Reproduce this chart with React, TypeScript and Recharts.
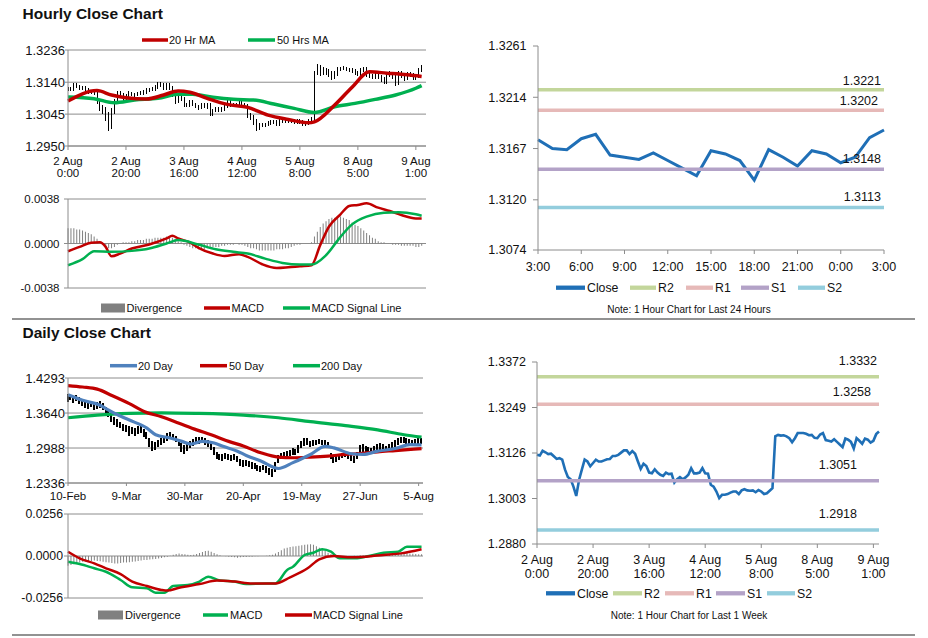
import {
  ComposedChart,
  Line,
  Bar,
  XAxis,
  YAxis,
  CartesianGrid,
  ReferenceLine,
} from "recharts";

// ──────────────────────────────────────────────
// Look
// ──────────────────────────────────────────────

const FONT = '"Liberation Sans", Arial, Helvetica, sans-serif';
const AXIS = "#8c8c8c";
const INK = "#111";
const RED = "#c00000";
const GREEN = "#00b050";
const BLUE = "#4f81bd";
const CLOSE = "#1f6fb6";
const DIV_GRAY = "#808080";
const LEVEL_COLORS = ["#c3d69b", "#e6b9b8", "#b3a2c7", "#93cddd"];

// ──────────────────────────────────────────────
// Hourly data (2 Aug 0:00 → 9 Aug 3:00)
// ──────────────────────────────────────────────

const WEEK_TICKS = [0, 20, 40, 60, 80, 100, 120];
const WEEK_TICK_DAYS = ["2 Aug", "2 Aug", "3 Aug", "4 Aug", "5 Aug", "8 Aug", "9 Aug"];
const WEEK_TICK_HOURS = ["0:00", "20:00", "16:00", "12:00", "8:00", "5:00", "1:00"];

const WEEK_CLOSE_HEAD = [
  1.3121, 1.3119, 1.3132, 1.3128, 1.3123, 1.3124, 1.3117, 1.311, 1.3112, 1.3108,
  1.3081, 1.3061, 1.3055, 1.3035, 1.301, 1.3053, 1.3081, 1.3108, 1.3103, 1.309,
  1.3099, 1.3108, 1.3103, 1.3103, 1.3106, 1.3109, 1.311, 1.3118, 1.3118, 1.3121,
  1.3127, 1.3133, 1.3133, 1.3123, 1.3131, 1.3124, 1.3103, 1.3083, 1.3097, 1.3091,
  1.3073, 1.3071, 1.3082, 1.3073, 1.3067, 1.3064, 1.3073, 1.3069, 1.307, 1.3046,
  1.3055, 1.3061, 1.3055, 1.306, 1.3067, 1.3085, 1.3071, 1.3071, 1.3073, 1.3085,
  1.3071, 1.307, 1.304, 1.3035, 1.3022, 1.3004, 1.3013, 1.3013, 1.3015, 1.3019,
  1.3022, 1.3022, 1.3015, 1.3025, 1.3028, 1.3025, 1.3024, 1.3025, 1.302, 1.3026,
  1.3022, 1.3015, 1.3017, 1.3024, 1.3031, 1.3171, 1.3175, 1.3173, 1.3174, 1.3171,
  1.3166, 1.3155, 1.3166, 1.318, 1.318, 1.318, 1.3178, 1.3174,
];

// last 24 hours: 8 Aug 3:00 → 9 Aug 3:00
const HOUR_TICKS = [0, 3, 6, 9, 12, 15, 18, 21, 24];
const HOUR_TICK_LABELS = ["3:00", "6:00", "9:00", "12:00", "15:00", "18:00", "21:00", "0:00", "3:00"];
const CLOSE_24 = [
  1.3175, 1.3167, 1.3166, 1.3176, 1.318, 1.3161, 1.3159, 1.3157, 1.3163, 1.3156,
  1.3149, 1.3142, 1.3165, 1.3162, 1.3156, 1.3138, 1.3166, 1.3159, 1.3151, 1.3165,
  1.3162, 1.3154, 1.3159, 1.3177, 1.3184,
];

const WEEK_CLOSE = [...WEEK_CLOSE_HEAD, ...CLOSE_24];

const HOURLY_LOW = [
  1.3115, 1.3114, 1.3114, 1.3122, 1.3118, 1.3117, 1.3112, 1.3105, 1.3105, 1.3102,
  1.3075, 1.3053, 1.3045, 1.3023, 1.2995, 1.3, 1.3045, 1.3075, 1.3098, 1.3084,
  1.3085, 1.3094, 1.3099, 1.3097, 1.3098, 1.3101, 1.3103, 1.3105, 1.3112, 1.3113,
  1.3115, 1.312, 1.3125, 1.3118, 1.3117, 1.3118, 1.3097, 1.3076, 1.3077, 1.3085,
  1.3067, 1.3065, 1.3066, 1.3068, 1.3062, 1.3058, 1.3059, 1.3064, 1.3061, 1.3038,
  1.304, 1.305, 1.305, 1.305, 1.3055, 1.3062, 1.3066, 1.3065, 1.3066, 1.3068,
  1.3065, 1.3064, 1.3034, 1.3027, 1.3014, 1.2996, 1.2998, 1.3007, 1.3008, 1.301,
  1.3014, 1.3016, 1.301, 1.301, 1.302, 1.302, 1.3018, 1.3019, 1.3015, 1.3015,
  1.3017, 1.301, 1.301, 1.3012, 1.3018, 1.302, 1.3163, 1.316, 1.3162, 1.3163,
  1.3157, 1.3148, 1.315, 1.316, 1.3174, 1.3175, 1.3173, 1.3169, 1.3168, 1.3161,
  1.316, 1.316, 1.317, 1.3155, 1.3152, 1.315, 1.315, 1.3149, 1.3141, 1.3134,
  1.3136, 1.3155, 1.3149, 1.313, 1.3132, 1.3152, 1.3145, 1.3146, 1.3156, 1.3148,
  1.3148, 1.3153, 1.317,
];
const HOURLY_HIGH = [
  1.3127, 1.3126, 1.3137, 1.3138, 1.3133, 1.313, 1.3129, 1.3122, 1.3117, 1.3118,
  1.3114, 1.3089, 1.3071, 1.3067, 1.305, 1.3063, 1.3089, 1.3114, 1.3113, 1.3109,
  1.3104, 1.3113, 1.3112, 1.3109, 1.3111, 1.3114, 1.3116, 1.3123, 1.3124, 1.3126,
  1.3133, 1.314, 1.3141, 1.3138, 1.3137, 1.3137, 1.313, 1.311, 1.3103, 1.3103,
  1.3097, 1.3079, 1.3087, 1.3087, 1.3078, 1.3073, 1.3078, 1.3078, 1.3078, 1.3078,
  1.3061, 1.3066, 1.3066, 1.3065, 1.3072, 1.309, 1.309, 1.3077, 1.3078, 1.309,
  1.3091, 1.3077, 1.3076, 1.3048, 1.3043, 1.303, 1.3019, 1.3019, 1.302, 1.3024,
  1.3027, 1.3028, 1.3027, 1.303, 1.3033, 1.3033, 1.3031, 1.303, 1.303, 1.3031,
  1.3031, 1.3027, 1.3022, 1.3029, 1.3037, 1.3172, 1.3195, 1.3192, 1.3186, 1.3182,
  1.318, 1.3172, 1.3172, 1.3186, 1.3186, 1.3187, 1.3185, 1.3183, 1.3181, 1.318,
  1.3172, 1.3181, 1.3185, 1.3185, 1.3167, 1.3165, 1.3169, 1.3169, 1.3163, 1.3156,
  1.3171, 1.3172, 1.3169, 1.3162, 1.3172, 1.3172, 1.3165, 1.3171, 1.317, 1.3168,
  1.3165, 1.3183, 1.3192,
];

// [hour index, value]
const MA20_HOURLY = [
  [0, 1.3084], [10, 1.3115], [15, 1.3102], [20, 1.3094], [27, 1.309], [33, 1.3102],
  [38, 1.3114], [42, 1.311], [48, 1.3092], [55, 1.3074], [62, 1.3065], [69, 1.3042],
  [76, 1.3029], [83, 1.3019], [85, 1.3022], [92, 1.3072], [98, 1.3125], [104, 1.3171],
  [110, 1.3167], [117, 1.3162], [122, 1.3157],
];
const MA50_HOURLY = [
  [0, 1.3096], [9, 1.3091], [16, 1.3079], [23, 1.3087], [31, 1.3092], [38, 1.3104],
  [43, 1.3104], [50, 1.3095], [57, 1.3089], [64, 1.3087], [71, 1.3075], [78, 1.3062],
  [85, 1.305], [92, 1.3067], [99, 1.3077], [106, 1.3089], [113, 1.3102], [120, 1.3122],
  [122, 1.313],
];

const MACD_HOURLY = [
  [0, -0.00066], [4, -0.00029], [8, 0.00006], [11, 0.0001], [13, -0.00029], [15, -0.00109],
  [18, -0.00086], [22, -0.00043], [28, -0.00009], [34, 0.00043], [36, 0.00066], [38, 0.00043],
  [42, 0.0001], [45, -0.00037], [50, -0.00086], [54, -0.00106], [59, -0.00091], [62, -0.00114],
  [67, -0.00177], [72, -0.00209], [76, -0.00203], [80, -0.00194], [84, -0.00186], [87, -0.00014],
  [90, 0.00143], [94, 0.00249], [97, 0.0032], [100, 0.00329], [103, 0.00343], [107, 0.00306],
  [111, 0.00277], [115, 0.00243], [120, 0.00214], [122, 0.00214],
];
const SIGNAL_HOURLY = [
  [0, -0.00186], [5, -0.00134], [9, -0.00066], [15, -0.00071], [22, -0.00063], [28, -0.00043],
  [34, 0], [38, 0.00029], [45, -0.00009], [51, -0.00049], [57, -0.00071], [62, -0.00086],
  [68, -0.00129], [74, -0.00166], [80, -0.0018], [84, -0.0018], [89, -0.001], [94, 0.00057],
  [98, 0.00163], [103, 0.00229], [109, 0.00263], [114, 0.00266], [120, 0.00249], [122, 0.00237],
];
const DIV_HOURLY = [
  0.0013, 0.0013, 0.0013, 0.0012, 0.0012, 0.0011, 0.001, 0.0009, 0.0008, 0.0006,
  0.0004, 0.0002, 0.0, -0.0002, -0.0004, -0.0004, -0.0003, -0.0001, 0.0, 0.0001,
  0.0001, 0.0001, 0.0002, 0.0002, 0.0003, 0.0003, 0.0003, 0.0004, 0.0004, 0.0004,
  0.0005, 0.0005, 0.0005, 0.0005, 0.0006, 0.0006, 0.0005, 0.0004, 0.0002, 0.0001,
  -0.0001, -0.0002, -0.0003, -0.0004, -0.0004, -0.0005, -0.0005, -0.0005, -0.0004, -0.0004,
  -0.0003, -0.0003, -0.0003, -0.0002, -0.0002, -0.0001, -0.0001, -0.0001, 0.0, -0.0001,
  -0.0001, -0.0002, -0.0003, -0.0004, -0.0004, -0.0005, -0.0006, -0.0006, -0.0006, -0.0006,
  -0.0006, -0.0006, -0.0005, -0.0005, -0.0005, -0.0004, -0.0004, -0.0003, -0.0002, -0.0001,
  -0.0001, 0.0, 0.0, 0.0, 0.0001, 0.0006, 0.001, 0.0014, 0.0017, 0.0019,
  0.0021, 0.0022, 0.0022, 0.0023, 0.0023, 0.0022, 0.0021, 0.002, 0.0018, 0.0016,
  0.0015, 0.0013, 0.0011, 0.0009, 0.0007, 0.0005, 0.0004, 0.0002, 0.0001, 0.0001,
  0.0, 0.0, -0.0001, -0.0001, -0.0001, -0.0002, -0.0002, -0.0002, -0.0002, -0.0002,
  -0.0003, -0.0003, -0.0002,
];

const LEVEL_NAMES = ["R2", "R1", "S1", "S2"];
const LEVELS_24 = [1.3221, 1.3202, 1.3148, 1.3113];
const LEVELS_WEEK = [1.3332, 1.3258, 1.3051, 1.2918];

// ──────────────────────────────────────────────
// Daily data (10 Feb → 5 Aug)
// ──────────────────────────────────────────────

const DAY_TICKS = [0, 20, 40, 60, 80, 100, 120];
const DAY_TICK_LABELS = ["10-Feb", "9-Mar", "30-Mar", "20-Apr", "19-May", "27-Jun", "5-Aug"];

const DAILY_LOW = [
  1.385, 1.388, 1.383, 1.386, 1.38, 1.378, 1.374, 1.372, 1.375, 1.37,
  1.372, 1.374, 1.37, 1.362, 1.356, 1.348, 1.342, 1.338, 1.336, 1.33,
  1.328, 1.322, 1.325, 1.321, 1.324, 1.326, 1.32, 1.315, 1.3, 1.294,
  1.296, 1.3, 1.305, 1.308, 1.312, 1.315, 1.314, 1.31, 1.302, 1.292,
  1.288, 1.294, 1.299, 1.303, 1.307, 1.306, 1.308, 1.305, 1.3, 1.296,
  1.285, 1.278, 1.276, 1.275, 1.278, 1.277, 1.275, 1.276, 1.272, 1.266,
  1.264, 1.265, 1.264, 1.26, 1.259, 1.256, 1.255, 1.257, 1.253, 1.248,
  1.245, 1.254, 1.27, 1.278, 1.281, 1.28, 1.283, 1.286, 1.285, 1.29,
  1.298, 1.303, 1.305, 1.3, 1.302, 1.304, 1.306, 1.305, 1.304, 1.299,
  1.278, 1.27, 1.272, 1.276, 1.28, 1.282, 1.279, 1.275, 1.27, 1.279,
  1.29, 1.292, 1.29, 1.288, 1.288, 1.291, 1.294, 1.296, 1.295, 1.292,
  1.294, 1.298, 1.301, 1.304, 1.308, 1.309, 1.306, 1.305, 1.303, 1.302,
  1.305, 1.307,
];
const DAILY_HIGH = [
  1.399, 1.3975, 1.396, 1.3985, 1.394, 1.39, 1.388, 1.383, 1.386, 1.383,
  1.385, 1.386, 1.383, 1.376, 1.368, 1.361, 1.356, 1.352, 1.348, 1.344,
  1.342, 1.34, 1.338, 1.336, 1.339, 1.342, 1.334, 1.328, 1.318, 1.312,
  1.31, 1.313, 1.317, 1.32, 1.326, 1.329, 1.325, 1.322, 1.315, 1.308,
  1.304, 1.306, 1.311, 1.315, 1.319, 1.32, 1.319, 1.317, 1.314, 1.308,
  1.3, 1.292, 1.288, 1.288, 1.289, 1.288, 1.286, 1.287, 1.284, 1.279,
  1.276, 1.276, 1.274, 1.272, 1.27, 1.268, 1.266, 1.267, 1.265, 1.262,
  1.26, 1.272, 1.285, 1.29, 1.292, 1.294, 1.296, 1.298, 1.297, 1.305,
  1.312, 1.317, 1.318, 1.312, 1.313, 1.314, 1.315, 1.314, 1.313, 1.31,
  1.29, 1.283, 1.285, 1.288, 1.29, 1.292, 1.29, 1.287, 1.283, 1.292,
  1.305, 1.306, 1.303, 1.3, 1.299, 1.303, 1.306, 1.309, 1.306, 1.303,
  1.306, 1.31, 1.313, 1.317, 1.32, 1.319, 1.317, 1.316, 1.314, 1.315,
  1.317, 1.318,
];

const MA20_DAILY = [
  [0, 1.3981], [5, 1.3877], [11, 1.3785], [13, 1.3724], [16, 1.3633], [21, 1.351],
  [27, 1.3358], [30, 1.3235], [35, 1.3174], [39, 1.3112], [42, 1.306], [46, 1.3112],
  [50, 1.3082], [53, 1.302], [58, 1.2929], [61, 1.285], [66, 1.2745], [72, 1.2606],
  [77, 1.2716], [83, 1.2868], [88, 1.302], [91, 1.2991], [97, 1.2881], [101, 1.2868],
  [106, 1.2929], [112, 1.2978], [117, 1.3051], [121, 1.3045],
];
const MA50_DAILY = [
  [0, 1.4152], [5, 1.4125], [10, 1.4085], [15, 1.3968], [21, 1.3816], [26, 1.367],
  [32, 1.357], [38, 1.3449], [44, 1.3326], [49, 1.3235], [55, 1.3112], [60, 1.3025],
  [66, 1.2899], [72, 1.2818], [77, 1.2807], [83, 1.2818], [89, 1.2837], [95, 1.2868],
  [100, 1.2886], [106, 1.2917], [112, 1.2941], [121, 1.2978],
];
const MA200_DAILY = [
  [0, 1.3552], [10, 1.3602], [21, 1.3633], [32, 1.3644], [44, 1.3633], [60, 1.3602],
  [72, 1.3552], [83, 1.3479], [95, 1.3405], [106, 1.3326], [115, 1.3235], [121, 1.319],
];

const MACD_DAILY = [
  [0, -0.0035], [4, -0.0049], [9, -0.0075], [13, -0.0096], [18, -0.0146], [22, -0.0191],
  [27, -0.0197], [30, -0.0224], [33, -0.0224], [36, -0.0183], [41, -0.0177], [45, -0.0156],
  [48, -0.0126], [52, -0.015], [57, -0.0156], [61, -0.0171], [68, -0.0167], [71, -0.0167],
  [75, -0.0085], [77, -0.0065], [81, 0.0006], [84, 0.002], [87, 0.0041], [90, 0.0026],
  [93, -0.0014], [99, -0.0014], [103, 0], [108, 0.002], [113, 0.0026], [116, 0.0057],
  [121, 0.0057],
];
const SIGNAL_DAILY = [
  [0, 0.0026], [4, -0.0014], [9, -0.0045], [13, -0.0075], [18, -0.011], [22, -0.0156],
  [27, -0.0183], [32, -0.0207], [34, -0.0211], [38, -0.0193], [45, -0.0171], [51, -0.015],
  [57, -0.0156], [63, -0.0167], [71, -0.0167], [76, -0.013], [82, -0.0075], [86, -0.002],
  [91, 0], [97, -0.0008], [102, -0.0004], [108, 0.0006], [114, 0.0016], [121, 0.0041],
];
const DIV_DAILY = [
  -0.006, -0.0055, -0.005, -0.0045, -0.004, -0.0035, -0.0033, -0.003, -0.003, -0.0028,
  -0.003, -0.0032, -0.0035, -0.0038, -0.004, -0.0042, -0.0045, -0.0045, -0.0043, -0.004,
  -0.004, -0.0038, -0.0035, -0.0033, -0.003, -0.0028, -0.0025, -0.0025, -0.0022, -0.002,
  -0.0018, -0.0015, -0.0012, -0.0008, -0.0004, 0.0002, 0.0008, 0.0012, 0.0015, 0.0012,
  0.001, 0.0008, 0.0006, 0.0008, 0.0012, 0.0018, 0.0024, 0.003, 0.0032, 0.0026,
  0.0018, 0.001, 0.0004, 0.0, -0.0002, -0.0004, -0.0006, -0.0008, -0.001, -0.0008,
  -0.0006, -0.0006, -0.0004, -0.0004, -0.0002, -0.0002, 0.0, 0.0, 0.0002, 0.0004,
  0.0008, 0.0015, 0.0025, 0.0035, 0.0045, 0.005, 0.0055, 0.0058, 0.006, 0.0062,
  0.0065, 0.0068, 0.007, 0.0072, 0.0068, 0.006, 0.005, 0.004, 0.003, 0.002,
  0.0012, 0.0006, 0.0002, -0.0002, -0.0004, -0.0004, -0.0002, 0.0, 0.0002, 0.0002,
  0.0004, 0.0004, 0.0006, 0.0006, 0.0008, 0.0008, 0.001, 0.001, 0.0012, 0.0012,
  0.0014, 0.0014, 0.0015, 0.0016, 0.0016, 0.0016, 0.0018, 0.0016, 0.0014, 0.0012,
  0.001, 0.001,
];

// ──────────────────────────────────────────────
// Tables
// ──────────────────────────────────────────────

const hourlyBars = HOURLY_LOW.map((lo, i) => ({ i, range: [lo, HOURLY_HIGH[i]] }));
const hourlyDiv = DIV_HOURLY.map((div, i) => ({ i, div }));
const close24 = CLOSE_24.map((close, i) => ({ i, close }));
const closeWeek = WEEK_CLOSE.map((close, i) => ({ i, close }));
const dailyBars = DAILY_LOW.map((lo, i) => ({ i, range: [lo, DAILY_HIGH[i]] }));
const dailyDiv = DIV_DAILY.map((div, i) => ({ i, div }));
const pts = (pairs: number[][]) => pairs.map(([i, v]) => ({ i, v }));

const fmt4 = (v: number) => v.toFixed(4);

// ──────────────────────────────────────────────
// Small pieces
// ──────────────────────────────────────────────

const WeekTick = (props: any) => {
  const { x, y, payload, fontSize, dy1, gap } = props;
  const k = WEEK_TICKS.indexOf(payload.value);
  return (
    <text x={x} y={y} textAnchor="middle" fontSize={fontSize} fill={INK} fontFamily={FONT}>
      <tspan x={x} dy={dy1}>{WEEK_TICK_DAYS[k]}</tspan>
      <tspan x={x} dy={gap}>{WEEK_TICK_HOURS[k]}</tspan>
    </text>
  );
};

const LevelLabel = (props: any) => {
  const { viewBox, text, right, lift } = props;
  if (!viewBox) return null;
  return (
    <text
      x={viewBox.x + viewBox.width - right}
      y={viewBox.y - lift}
      textAnchor="end"
      fontSize={12.5}
      fill={INK}
      fontFamily={FONT}
    >
      {text}
    </text>
  );
};

// high-low stick, snapped to whole pixels so it stays solid black
const stick = (w: number) => (p: any) => {
  if (p.height == null || p.x == null) return <g />;
  const h = Math.abs(p.height);
  const top = p.height < 0 ? p.y + p.height : p.y;
  return (
    <rect
      x={p.x + p.width / 2 - w / 2}
      y={top}
      width={w}
      height={Math.max(h, 1)}
      fill="#000"
      shapeRendering="crispEdges"
    />
  );
};

const sparseLine = (pairs: number[][], color: string, width: number) => (
  <Line
    data={pts(pairs)}
    dataKey="v"
    type="monotone"
    stroke={color}
    strokeWidth={width}
    dot={false}
    isAnimationActive={false}
  />
);

type LegendItem = { label: string; color: string; kind: "line" | "bar"; x: number; w: number; tx: number };
type LegendSpec = { y: number; fontSize: number; thick: number; items: LegendItem[] };

const LEGENDS: LegendSpec[] = [
  {
    y: 40, fontSize: 11, thick: 3.5,
    items: [
      { label: "20 Hr MA", color: RED, kind: "line", x: 142, w: 26, tx: 169 },
      { label: "50 Hrs MA", color: GREEN, kind: "line", x: 248, w: 27, tx: 277 },
    ],
  },
  {
    y: 308, fontSize: 11, thick: 3.5,
    items: [
      { label: "Divergence", color: DIV_GRAY, kind: "bar", x: 101, w: 24, tx: 126.5 },
      { label: "MACD", color: RED, kind: "line", x: 204, w: 26, tx: 231.5 },
      { label: "MACD Signal Line", color: GREEN, kind: "line", x: 283, w: 27, tx: 311.5 },
    ],
  },
  {
    y: 365.7, fontSize: 11, thick: 3.5,
    items: [
      { label: "20 Day", color: BLUE, kind: "line", x: 110, w: 27, tx: 138 },
      { label: "50 Day", color: RED, kind: "line", x: 200, w: 27, tx: 229 },
      { label: "200 Day", color: GREEN, kind: "line", x: 293, w: 27, tx: 321 },
    ],
  },
  {
    y: 615, fontSize: 11, thick: 3.5,
    items: [
      { label: "Divergence", color: DIV_GRAY, kind: "bar", x: 98, w: 25, tx: 125 },
      { label: "MACD", color: GREEN, kind: "line", x: 203, w: 25, tx: 230 },
      { label: "MACD Signal Line", color: RED, kind: "line", x: 285, w: 27, tx: 313 },
    ],
  },
  {
    y: 287.7, fontSize: 12.3, thick: 4.3,
    items: [
      { label: "Close", color: CLOSE, kind: "line", x: 556, w: 29, tx: 587 },
      { label: "R2", color: LEVEL_COLORS[0], kind: "line", x: 630, w: 26, tx: 658 },
      { label: "R1", color: LEVEL_COLORS[1], kind: "line", x: 686, w: 27, tx: 715 },
      { label: "S1", color: LEVEL_COLORS[2], kind: "line", x: 741, w: 28, tx: 771 },
      { label: "S2", color: LEVEL_COLORS[3], kind: "line", x: 798, w: 27, tx: 827 },
    ],
  },
  {
    y: 593.3, fontSize: 12.3, thick: 4.3,
    items: [
      { label: "Close", color: CLOSE, kind: "line", x: 546, w: 29, tx: 577 },
      { label: "R2", color: LEVEL_COLORS[0], kind: "line", x: 613, w: 29, tx: 644 },
      { label: "R1", color: LEVEL_COLORS[1], kind: "line", x: 665, w: 29, tx: 696 },
      { label: "S1", color: LEVEL_COLORS[2], kind: "line", x: 716, w: 29, tx: 747 },
      { label: "S2", color: LEVEL_COLORS[3], kind: "line", x: 767, w: 28, tx: 797 },
    ],
  },
];

// label placement of the level values (offset from plot right, lift above line)
const LABEL_POS_24 = [
  { right: 3, lift: 4.5 },
  { right: 6, lift: 5 },
  { right: 3, lift: 6.5 },
  { right: 3, lift: 6 },
];
const LABEL_POS_WEEK = [
  { right: 2, lift: 11.5 },
  { right: 8, lift: 8 },
  { right: 22, lift: 12 },
  { right: 22, lift: 12 },
];

const Overlay = () => (
  <svg
    width={928}
    height={638}
    style={{ position: "absolute", left: 0, top: 0, pointerEvents: "none" }}
    fontFamily={FONT}
  >
    <text x={22.5} y={18.5} fontSize={15.5} fontWeight="bold" fill={INK}>Hourly Close Chart</text>
    <text x={22.5} y={338.3} fontSize={15.5} fontWeight="bold" fill={INK}>Daily Close Chart</text>
    <line x1={12} x2={915} y1={319} y2={319} stroke="#6e6e6e" strokeWidth={1.3} />
    <line x1={12} x2={915} y1={635} y2={635} stroke="#6e6e6e" strokeWidth={1.3} />
    <text x={689} y={313.3} fontSize={10} textAnchor="middle" fill={INK}>
      Note: 1 Hour Chart for Last 24 Hours
    </text>
    <text x={689} y={619.3} fontSize={10} textAnchor="middle" fill={INK}>
      Note: 1 Hour Chart for Last 1 Week
    </text>
    {LEGENDS.map((lg, li) => (
      <g key={li}>
        {lg.items.map((it) => (
          <g key={it.label}>
            {it.kind === "line" ? (
              <line x1={it.x} x2={it.x + it.w} y1={lg.y} y2={lg.y} stroke={it.color} strokeWidth={lg.thick} />
            ) : (
              <rect x={it.x} y={lg.y - 4.5} width={it.w} height={9} fill={it.color} />
            )}
            <text x={it.tx} y={lg.y + lg.fontSize * 0.36} fontSize={lg.fontSize} fill={INK}>
              {it.label}
            </text>
          </g>
        ))}
      </g>
    ))}
  </svg>
);

const at = (left: number, top: number) => ({ position: "absolute" as const, left, top });

// ──────────────────────────────────────────────
// Component
// ──────────────────────────────────────────────

export default function App() {
  return (
    <div
      style={{
        position: "fixed",
        left: 0,
        top: 0,
        width: 928,
        height: 638,
        background: "#fff",
        fontFamily: FONT,
        overflow: "hidden",
      }}
    >
      {/* ── Hourly price ── */}
      <div style={at(0, 0)}>
        <ComposedChart width={440} height={185} data={hourlyBars} margin={{ top: 50, right: 14, bottom: 4, left: 0 }}>
          <CartesianGrid vertical={false} stroke={AXIS} />
          <XAxis
            type="number"
            dataKey="i"
            domain={[0, 123.5]}
            ticks={WEEK_TICKS}
            interval={0}
            height={35}
            stroke={AXIS}
            tickSize={4}
            tick={(p: any) => <WeekTick {...p} fontSize={11.5} dy1={12.5} gap={12} />}
          />
          <YAxis
            type="number"
            domain={[1.295, 1.3236]}
            ticks={[1.295, 1.3045, 1.314, 1.3236]}
            interval={0}
            allowDataOverflow
            width={68}
            stroke={AXIS}
            tickSize={3}
            tickMargin={0}
            tick={{ fill: INK, fontSize: 13 }}
            tickFormatter={fmt4}
          />
          <Bar dataKey="range" fill="#000" barSize={1} shape={stick(1)} isAnimationActive={false} />
          {sparseLine(MA50_HOURLY, GREEN, 3.5)}
          {sparseLine(MA20_HOURLY, RED, 3.5)}
        </ComposedChart>
      </div>

      {/* ── Hourly MACD ── */}
      <div style={at(0, 185)}>
        <ComposedChart width={440} height={110} data={hourlyDiv} margin={{ top: 14, right: 14, bottom: 7, left: 0 }}>
          <CartesianGrid vertical={false} stroke={AXIS} />
          <XAxis type="number" dataKey="i" domain={[0, 123.5]} hide />
          <YAxis
            type="number"
            domain={[-0.0038, 0.0038]}
            ticks={[-0.0038, 0, 0.0038]}
            interval={0}
            allowDataOverflow
            width={68}
            stroke={AXIS}
            tickSize={4}
            tickMargin={4.5}
            tick={{ fill: INK, fontSize: 11.5 }}
            tickFormatter={fmt4}
          />
          <Bar dataKey="div" fill={DIV_GRAY} barSize={1} isAnimationActive={false} />
          {sparseLine(MACD_HOURLY, RED, 2.5)}
          {sparseLine(SIGNAL_HOURLY, GREEN, 2.5)}
        </ComposedChart>
      </div>

      {/* ── Last 24 hours ── */}
      <div style={at(460, 0)}>
        <ComposedChart width={440} height={285} data={close24} margin={{ top: 46, right: 16, bottom: 15, left: 0 }}>
          <XAxis
            type="number"
            dataKey="i"
            domain={[0, 24]}
            ticks={HOUR_TICKS}
            interval={0}
            height={20}
            stroke={AXIS}
            tickSize={4}
            tickMargin={8}
            tick={{ fill: INK, fontSize: 12.5 }}
            tickFormatter={(v: number) => HOUR_TICK_LABELS[HOUR_TICKS.indexOf(v)]}
          />
          <YAxis
            type="number"
            domain={[1.3074, 1.3261]}
            ticks={[1.3074, 1.312, 1.3167, 1.3214, 1.3261]}
            interval={0}
            allowDataOverflow
            width={78}
            stroke={AXIS}
            tickSize={5}
            tickMargin={6.5}
            tick={{ fill: INK, fontSize: 12.5 }}
            tickFormatter={fmt4}
          />
          <Line dataKey="close" type="linear" stroke={CLOSE} strokeWidth={3} dot={false} isAnimationActive={false} />
          {LEVELS_24.map((lv, k) => (
            <ReferenceLine
              key={LEVEL_NAMES[k]}
              y={lv}
              stroke={LEVEL_COLORS[k]}
              strokeWidth={3.5}
              label={<LevelLabel text={fmt4(lv)} right={LABEL_POS_24[k].right} lift={LABEL_POS_24[k].lift} />}
            />
          ))}
        </ComposedChart>
      </div>

      {/* ── Daily price ── */}
      <div style={at(0, 320)}>
        <ComposedChart width={440} height={185} data={dailyBars} margin={{ top: 58, right: 17, bottom: 0, left: 0 }}>
          <CartesianGrid vertical={false} stroke={AXIS} />
          <XAxis
            type="number"
            dataKey="i"
            domain={[0, 121.5]}
            ticks={DAY_TICKS}
            interval={0}
            height={22}
            stroke={AXIS}
            tickSize={3}
            tickMargin={6}
            tick={{ fill: INK, fontSize: 11.5 }}
            tickFormatter={(v: number) => DAY_TICK_LABELS[DAY_TICKS.indexOf(v)]}
          />
          <YAxis
            type="number"
            domain={[1.2336, 1.4293]}
            ticks={[1.2336, 1.2988, 1.364, 1.4293]}
            interval={0}
            allowDataOverflow
            width={68}
            stroke={AXIS}
            tickSize={3}
            tickMargin={0}
            tick={{ fill: INK, fontSize: 13 }}
            tickFormatter={fmt4}
          />
          <Bar dataKey="range" fill="#000" barSize={2} shape={stick(2)} isAnimationActive={false} />
          {sparseLine(MA200_DAILY, GREEN, 3.2)}
          {sparseLine(MA50_DAILY, RED, 3.2)}
          {sparseLine(MA20_DAILY, BLUE, 3.2)}
        </ComposedChart>
      </div>

      {/* ── Daily MACD ── */}
      <div style={at(0, 500)}>
        <ComposedChart width={440} height={110} data={dailyDiv} margin={{ top: 14, right: 17, bottom: 12, left: 0 }}>
          <CartesianGrid vertical={false} stroke={AXIS} />
          <XAxis type="number" dataKey="i" domain={[0, 121.5]} hide />
          <YAxis
            type="number"
            domain={[-0.0256, 0.0256]}
            ticks={[-0.0256, 0, 0.0256]}
            interval={0}
            allowDataOverflow
            width={68}
            stroke={AXIS}
            tickSize={4}
            tickMargin={1}
            tick={{ fill: INK, fontSize: 12.3 }}
            tickFormatter={fmt4}
          />
          <Bar dataKey="div" fill={DIV_GRAY} barSize={1} isAnimationActive={false} />
          {sparseLine(MACD_DAILY, GREEN, 2.5)}
          {sparseLine(SIGNAL_DAILY, RED, 2.5)}
        </ComposedChart>
      </div>

      {/* ── Last week ── */}
      <div style={at(460, 320)}>
        <ComposedChart width={440} height={265} data={closeWeek} margin={{ top: 42, right: 21, bottom: 6, left: 0 }}>
          <XAxis
            type="number"
            dataKey="i"
            domain={[0, 122]}
            ticks={WEEK_TICKS}
            interval={0}
            height={35}
            stroke={AXIS}
            tickSize={4}
            tick={(p: any) => <WeekTick {...p} fontSize={12.5} dy1={14} gap={14.3} />}
          />
          <YAxis
            type="number"
            domain={[1.288, 1.3372]}
            ticks={[1.288, 1.3003, 1.3126, 1.3249, 1.3372]}
            interval={0}
            allowDataOverflow
            width={77}
            stroke={AXIS}
            tickSize={5}
            tickMargin={6}
            tick={{ fill: INK, fontSize: 12.5 }}
            tickFormatter={fmt4}
          />
          <Line dataKey="close" type="linear" stroke={CLOSE} strokeWidth={2.6} dot={false} isAnimationActive={false} />
          {LEVELS_WEEK.map((lv, k) => (
            <ReferenceLine
              key={LEVEL_NAMES[k]}
              y={lv}
              stroke={LEVEL_COLORS[k]}
              strokeWidth={3.5}
              label={<LevelLabel text={fmt4(lv)} right={LABEL_POS_WEEK[k].right} lift={LABEL_POS_WEEK[k].lift} />}
            />
          ))}
        </ComposedChart>
      </div>

      <Overlay />
    </div>
  );
}
